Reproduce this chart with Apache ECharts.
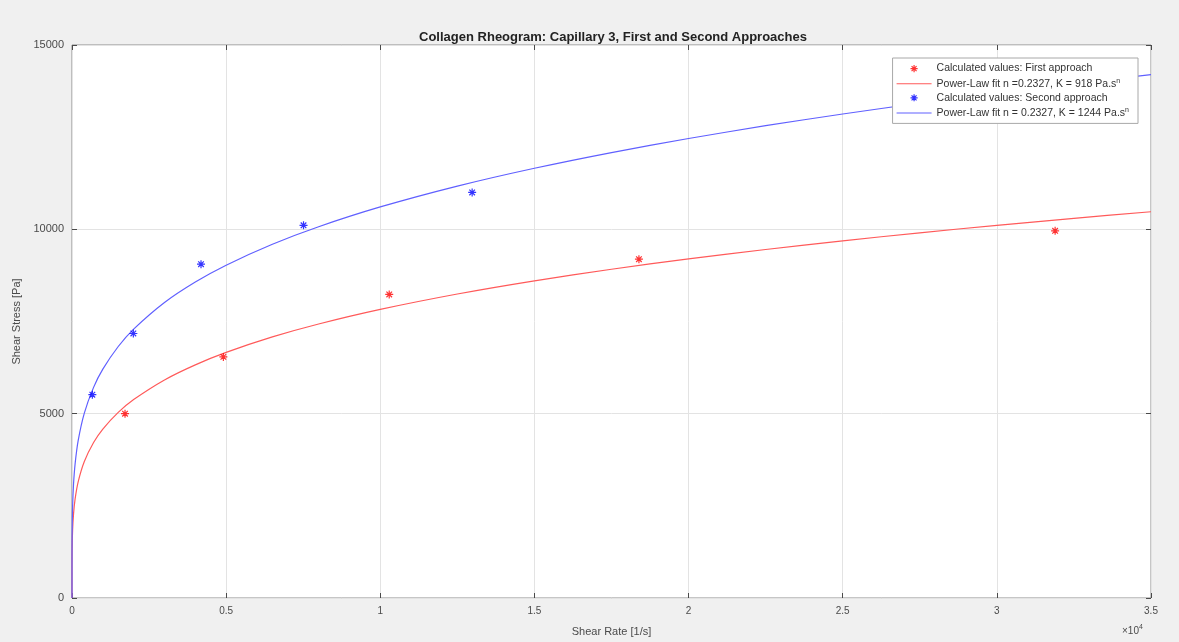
<!DOCTYPE html>
<html>
<head>
<meta charset="utf-8">
<script src="https://cdn.jsdelivr.net/npm/echarts@6/dist/echarts.min.js"></script>
<style>
  html, body { margin: 0; padding: 0; background: #f0f0f0; }
  #chart { width: 1179px; height: 642px; }
</style>
</head>
<body>
<div id="chart"></div>
<script>
// Measured rheogram points (shear rate in 1/s, shear stress in Pa)
const firstRate = [1720, 4910, 10290, 18390, 31890];
const firstStress = [5000, 6540, 8235, 9190, 9960];
const secondRate = [660, 1990, 4185, 7510, 12980];
const secondStress = [5515, 7175, 9055, 10110, 11000];

// Power-law fit parameters: stress = K * rate^n
const fitN = 0.2327;
const fitKFirst = 918;
const fitKSecond = 1244;

// Shear-rate samples at which the fitted curves are evaluated
const fitRates = [0, 1, 5, 20, 50, 100, 200, 400, 700, 1000, 1500, 2000, 3000, 4000, 5000, 6500,
  8000, 10000, 12500, 15000, 17500, 20000, 22500, 25000, 27500, 30000, 32500, 35000];

const xTicks = [0, 5000, 10000, 15000, 20000, 25000, 30000, 35000];
const yTicks = [0, 5000, 10000, 15000];

const font = 'Liberation Sans, Arial, Helvetica, sans-serif';
const axisGray = '#4a4a4a';
const red = '#ff0000', redLine = '#ff5a5a';
const blue = '#0000ff', blueLine = '#6060ff';

const pairs = (xs, ys) => xs.map((x, i) => [x, ys[i]]);
const fitCurve = (k) => fitRates.map(r => [r, k * Math.pow(r, fitN)]);

// MATLAB-style '*' marker: plus overlaid with a cross
const asterisk = 'path://M5,0L5,10M0,5L10,5M1.5,1.5L8.5,8.5M1.5,8.5L8.5,1.5';
// same marker with empty margin so it sits smaller in the legend swatch
const asteriskSmall = 'path://M-2,-2L-2,-2M12,12L12,12M5,0L5,10M0,5L10,5M1.5,1.5L8.5,8.5M1.5,8.5L8.5,1.5';
// thin bar used as the legend swatch of the fitted lines
const lineIcon = 'path://M0,0H40V1.2H0Z';

const names = {
  s1: 'Calculated values: First approach',
  f1: 'Power-Law fit n =' + fitN + ', K = ' + fitKFirst + ' Pa.s{sup|n}',
  s2: 'Calculated values: Second approach',
  f2: 'Power-Law fit n = ' + fitN + ', K = ' + fitKSecond + ' Pa.s{sup|n}'
};

const chart = echarts.init(document.getElementById('chart'));

const tickStyle = { show: true, inside: true, length: 5, lineStyle: { color: axisGray } };

const baseX = {
  type: 'value', min: 0, max: 35000, interval: 5000,
  axisLine: { show: false, onZero: false },
  axisTick: tickStyle,
  splitLine: { show: false },
  axisLabel: { show: false }
};
const baseY = {
  type: 'value', min: 0, max: 15000, interval: 5000,
  axisLine: { show: false, onZero: false },
  axisTick: tickStyle,
  splitLine: { show: false },
  axisLabel: { show: false }
};

chart.setOption({
  backgroundColor: '#f0f0f0',
  animation: false,
  textStyle: { fontFamily: font },
  title: {
    text: 'Collagen Rheogram: Capillary 3, First and Second Approaches',
    left: 608, top: 26, textAlign: 'center',
    textStyle: { fontFamily: font, fontSize: 13, fontWeight: 'bold', color: '#222' }
  },
  grid: {
    left: 72, right: 28, top: 45, bottom: 44,
    show: true, backgroundColor: '#ffffff', borderColor: '#8c8c8c', borderWidth: 1
  },
  legend: {
    orient: 'vertical', right: 41, top: 58,
    backgroundColor: '#ffffff', borderColor: '#a8a8a8', borderWidth: 1, borderRadius: 0,
    padding: [5, 9, 5, 4], itemGap: 3, itemWidth: 35, itemHeight: 10,
    data: [
      { name: names.s1, icon: asteriskSmall, itemStyle: { color: 'rgba(0,0,0,0)', borderColor: red, borderWidth: 1.2 } },
      { name: names.f1, icon: lineIcon, itemStyle: { color: redLine, borderWidth: 0 } },
      { name: names.s2, icon: asteriskSmall, itemStyle: { color: 'rgba(0,0,0,0)', borderColor: blue, borderWidth: 1.2 } },
      { name: names.f2, icon: lineIcon, itemStyle: { color: blueLine, borderWidth: 0 } }
    ],
    textStyle: {
      fontFamily: font, fontSize: 10.5, color: '#333',
      rich: { sup: { fontSize: 7, verticalAlign: 'top', padding: [0, 0, 6, 0], color: '#333' } }
    }
  },
  xAxis: [
    Object.assign({}, baseX, {
      position: 'bottom',
      splitLine: { show: true, lineStyle: { color: '#e3e3e3', width: 1 } },
      axisLabel: {
        show: true, margin: 8, fontSize: 10, color: axisGray, fontFamily: font,
        formatter: v => xTicks.includes(v) ? String(v / 10000) : ''
      },
      name: 'Shear Rate [1/s]', nameLocation: 'middle', nameGap: 28,
      nameTextStyle: { fontSize: 11, color: axisGray, fontFamily: font }
    }),
    Object.assign({}, baseX, { position: 'top' })
  ],
  yAxis: [
    Object.assign({}, baseY, {
      position: 'left',
      splitLine: { show: true, lineStyle: { color: '#e3e3e3', width: 1 } },
      axisLabel: {
        show: true, margin: 8, fontSize: 11, color: axisGray, fontFamily: font,
        formatter: v => yTicks.includes(v) ? String(v) : ''
      },
      name: 'Shear Stress [Pa]', nameLocation: 'middle', nameGap: 44,
      nameTextStyle: { fontSize: 11, color: axisGray, fontFamily: font }
    }),
    Object.assign({}, baseY, { position: 'right' })
  ],
  graphic: [{
    type: 'text', left: 1122, top: 624,
    style: {
      text: '×10{e|4}', fontFamily: font, fontSize: 10, fill: axisGray,
      rich: { e: { fontSize: 7, verticalAlign: 'top', padding: [0, 0, 7, 0], fill: axisGray } }
    }
  }],
  series: [
    {
      name: names.s1, type: 'scatter', data: pairs(firstRate, firstStress),
      symbol: asterisk, symbolSize: 8, z: 5,
      itemStyle: { color: 'rgba(0,0,0,0)', borderColor: red, borderWidth: 1.2 }
    },
    {
      name: names.f1, type: 'line', data: fitCurve(fitKFirst), smooth: 0.3,
      symbol: 'none', lineStyle: { color: redLine, width: 1.2 }, itemStyle: { color: redLine }
    },
    {
      name: names.s2, type: 'scatter', data: pairs(secondRate, secondStress),
      symbol: asterisk, symbolSize: 8, z: 5,
      itemStyle: { color: 'rgba(0,0,0,0)', borderColor: blue, borderWidth: 1.2 }
    },
    {
      name: names.f2, type: 'line', data: fitCurve(fitKSecond), smooth: 0.3,
      symbol: 'none', lineStyle: { color: blueLine, width: 1.2 }, itemStyle: { color: blueLine }
    }
  ]
});
</script>
</body>
</html>
